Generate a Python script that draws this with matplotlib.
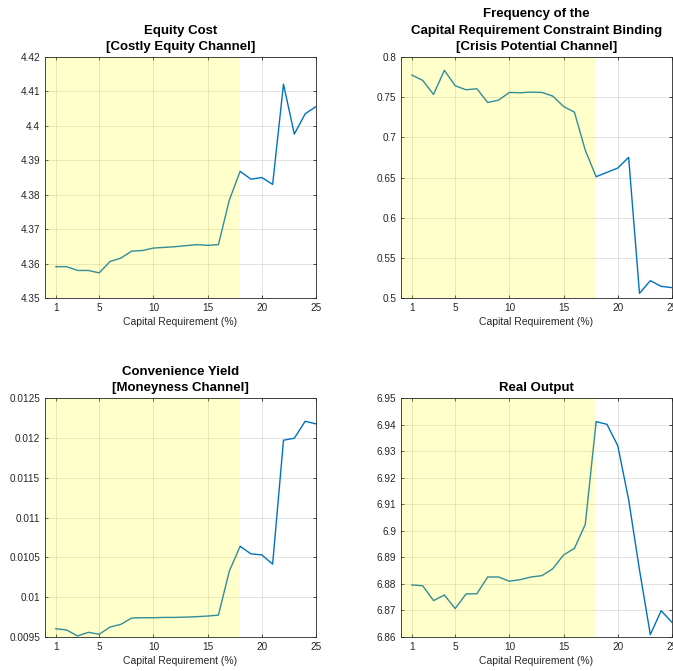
import numpy as np
import matplotlib
matplotlib.use("Agg")
import matplotlib.pyplot as plt

# capital requirement grid (%)
cap_req = np.arange(1, 26)

equity_cost = [4.3591, 4.3591, 4.3580, 4.3580, 4.3573, 4.3606, 4.3616, 4.3636, 4.3638,
               4.3645, 4.3647, 4.3649, 4.3652, 4.3655, 4.3653, 4.3655, 4.3784, 4.3868,
               4.3845, 4.3850, 4.3830, 4.4121, 4.3976, 4.4035, 4.4056]

binding_freq = [0.7775, 0.7709, 0.7534, 0.7834, 0.7642, 0.7592, 0.7605, 0.7434, 0.7463,
                0.7559, 0.7555, 0.7563, 0.7559, 0.7513, 0.7384, 0.7313, 0.6839, 0.6510,
                0.6564, 0.6618, 0.6751, 0.5058, 0.5216, 0.5145, 0.5129]

conv_yield = [0.009604, 0.009588, 0.009513, 0.009559, 0.009534, 0.009625, 0.009659,
              0.009738, 0.009742, 0.009742, 0.009746, 0.009746, 0.009750, 0.009755,
              0.009763, 0.009775, 0.010326, 0.010639, 0.010543, 0.010531, 0.010414,
              0.011970, 0.011995, 0.012208, 0.012175]

real_output = [6.8796, 6.8793, 6.8737, 6.8758, 6.8707, 6.8762, 6.8763, 6.8826, 6.8826,
               6.8810, 6.8816, 6.8826, 6.8831, 6.8857, 6.8909, 6.8934, 6.9024, 6.9411,
               6.9401, 6.9320, 6.9117, 6.8853, 6.8609, 6.8699, 6.8655]

shade_end = 18

panels = [
    (equity_cost, "Equity Cost\n[Costly Equity Channel]",
     (4.35, 4.42), [4.35, 4.36, 4.37, 4.38, 4.39, 4.40, 4.41, 4.42],
     ["4.35", "4.36", "4.37", "4.38", "4.39", "4.4", "4.41", "4.42"]),
    (binding_freq, "Frequency of the\nCapital Requirement Constraint Binding\n[Crisis Potential Channel]",
     (0.5, 0.8), [0.5, 0.55, 0.6, 0.65, 0.7, 0.75, 0.8],
     ["0.5", "0.55", "0.6", "0.65", "0.7", "0.75", "0.8"]),
    (conv_yield, "Convenience Yield\n[Moneyness Channel]",
     (0.0095, 0.0125), [0.0095, 0.01, 0.0105, 0.011, 0.0115, 0.012, 0.0125],
     ["0.0095", "0.01", "0.0105", "0.011", "0.0115", "0.012", "0.0125"]),
    (real_output, "Real Output",
     (6.86, 6.95), [6.86, 6.87, 6.88, 6.89, 6.90, 6.91, 6.92, 6.93, 6.94, 6.95],
     ["6.86", "6.87", "6.88", "6.89", "6.9", "6.91", "6.92", "6.93", "6.94", "6.95"]),
]

plt.rcParams['font.family'] = ['Liberation Sans', 'DejaVu Sans']

fig = plt.figure(figsize=(6.73, 6.71), dpi=100)

W, H = 673.0, 671.0
boxes = [(45, 57, 316, 298), (401, 57, 672, 298),
         (45, 398, 316, 637), (401, 398, 672, 637)]

dark = "#262626"

for (vals, title, ylim, yticks, ylabels), (x0, y0, x1, y1) in zip(panels, boxes):
    ax = fig.add_axes([x0 / W, 1 - y1 / H, (x1 - x0) / W, (y1 - y0) / H])
    ax.plot(cap_req, vals, color="#0072BD", lw=1.0, zorder=2)
    ax.axvspan(0, shade_end, color=(1, 1, 0), alpha=0.2, lw=0, zorder=3)
    ax.set_xlim(0, 25)
    ax.set_ylim(*ylim)
    ax.set_xticks([1, 5, 10, 15, 20, 25])
    ax.set_yticks(yticks)
    ax.set_yticklabels(ylabels)
    ax.grid(True, color=dark, alpha=0.15, lw=0.6)
    ax.set_axisbelow(True)
    ax.tick_params(direction="in", length=2.5, width=0.6, labelsize=7.2,
                   colors=dark, top=True, right=True)
    for sp in ax.spines.values():
        sp.set_color(dark)
        sp.set_linewidth(0.6)
        sp.set_zorder(4)
    ax.set_xlabel("Capital Requirement (%)", fontsize=7.5, color=dark, labelpad=3)
    ax.set_title(title, fontsize=9.5, fontweight="bold", pad=5, linespacing=1.5)

fig.savefig("out.png", dpi=100)
